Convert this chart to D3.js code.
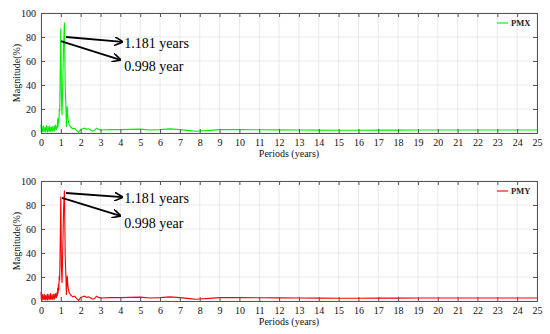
<!DOCTYPE html>
<html>
<head>
<meta charset="utf-8">
<script src="https://cdn.jsdelivr.net/npm/d3@7"></script>
<style>
	body { margin: 0; background: #fff; }
	svg { display: block; font-family: 'Liberation Serif', 'Times New Roman', serif; }
</style>
</head>
<body>
<svg></svg>
<script>
// periods (years) and magnitudes (%)
const periods = [
	0.00, 0.02, 0.04, 0.06, 0.08, 0.10, 0.12, 0.14, 0.16, 0.18, 0.20, 0.22, 0.24, 0.26, 0.28, 0.30,
	0.32, 0.34, 0.36, 0.38, 0.40, 0.42, 0.44, 0.46, 0.48, 0.50, 0.52, 0.54, 0.56, 0.58, 0.60, 0.62,
	0.64, 0.66, 0.68, 0.70, 0.72, 0.74, 0.76, 0.78, 0.80, 0.82, 0.84, 0.86, 0.88, 0.90, 0.92, 0.94,
	0.96, 0.998, 1.03, 1.06, 1.10, 1.14, 1.181, 1.22, 1.26, 1.28, 1.32, 1.36, 1.40, 1.45, 1.50,
	1.60, 1.70, 1.80, 1.90, 2.00, 2.10, 2.20, 2.30, 2.40, 2.50, 2.60, 2.70, 2.80, 2.90, 3.00,
	3.50, 4.00, 4.50, 5.00, 5.50, 6.00, 6.50, 7.00, 7.50, 7.80, 8.50, 9.00, 10.0, 11.0, 12.0,
	13.0, 14.0, 15.0, 16.0, 17.0, 18.0, 19.0, 20.0, 21.0, 22.0, 23.0, 24.0, 25.0
];

const pmx = [
	7.0, 1.0, 5.5, 0.5, 4.0, 2.0, 6.0, 0.8, 3.5, 1.5, 5.0, 0.6, 4.5, 2.5, 6.5, 1.0,
	3.0, 0.5, 5.5, 2.0, 4.0, 1.0, 6.0, 1.5, 3.5, 0.8, 5.0, 2.0, 4.5, 1.2, 6.0, 2.5,
	3.5, 1.0, 5.5, 2.0, 7.0, 3.0, 5.0, 2.5, 6.5, 4.0, 12.0, 5.0, 13.0, 8.0, 20.0, 18.0,
	40.0, 87.0, 30.0, 15.0, 45.0, 75.0, 92.0, 40.0, 20.0, 5.0, 22.0, 12.0, 8.0, 6.0, 5.0,
	3.5, 4.0, 2.0, 0.5, 3.0, 3.5, 4.0, 3.0, 3.5, 2.5, 1.5, 2.0, 4.0, 3.0, 2.5,
	2.8, 2.8, 3.0, 3.2, 2.5, 2.8, 3.4, 2.8, 2.0, 1.5, 2.2, 2.8, 2.8, 2.7, 2.6,
	2.5, 2.4, 2.3, 2.3, 2.4, 2.4, 2.5, 2.5, 2.5, 2.5, 2.5, 2.5, 2.5
];

const pmy = [
	7.5, 1.5, 4.5, 0.5, 5.5, 2.0, 3.5, 0.8, 6.0, 1.5, 4.0, 0.6, 5.0, 2.5, 3.0, 1.0,
	6.0, 0.5, 4.0, 2.0, 5.5, 1.0, 3.5, 1.5, 6.5, 0.8, 4.0, 2.0, 5.5, 1.2, 3.5, 2.5,
	6.0, 1.0, 4.5, 2.0, 6.5, 3.0, 5.5, 2.5, 7.0, 4.0, 11.0, 6.0, 14.0, 9.0, 21.0, 17.0,
	38.0, 87.0, 28.0, 15.0, 45.0, 78.0, 92.0, 38.0, 18.0, 5.0, 21.0, 12.0, 8.0, 6.0, 5.0,
	3.5, 4.0, 2.0, 0.5, 3.0, 3.5, 4.0, 3.0, 3.5, 2.5, 1.5, 2.0, 4.0, 3.0, 2.5,
	2.8, 2.8, 3.0, 3.2, 2.5, 2.8, 3.4, 2.8, 2.0, 1.5, 2.2, 2.8, 2.8, 2.7, 2.6,
	2.5, 2.4, 2.3, 2.3, 2.4, 2.4, 2.5, 2.5, 2.5, 2.5, 2.5, 2.5, 2.5
];

const xTicks = d3.range(0, 26, 1);
const yTicks = [0, 20, 40, 60, 80, 100];
const peakLabels = ['1.181 years', '0.998 year'];

// annotation arrows [x1, y1, x2, y2] in data units, and label anchors [x, y]
const arrowsX = [[1.26, 80, 4.1, 76], [1.0, 76.5, 4.0, 61]];
const labelsX = [[4.2, 71], [4.2, 52]];
const arrowsY = [[1.26, 90, 4.1, 86.5], [1.06, 86, 4.0, 71]];
const labelsY = [[4.2, 82], [4.2, 61]];

const serif = "'Liberation Serif', 'Times New Roman', serif";

const svg = d3.select('svg')
	.attr('width', 550)
	.attr('height', 334);

svg.append('defs').append('marker')
	.attr('id', 'head')
	.attr('viewBox', '0 0 10 10')
	.attr('refX', 9)
	.attr('refY', 5)
	.attr('markerWidth', 9)
	.attr('markerHeight', 9)
	.attr('markerUnits', 'userSpaceOnUse')
	.attr('orient', 'auto')
	.append('path')
		.attr('d', 'M0,0 L10,5 L0,10')
		.attr('fill', 'none')
		.attr('stroke', 'black')
		.attr('stroke-width', 1.8);

const render = (top, values, color, name, arrows, labels) => {
	const margin = { left: 41, right: 13 },
		innerWidth = 550 - margin.left - margin.right,
		innerHeight = 120;

	const xScale = d3.scaleLinear()
		.domain([0, 25])
		.range([0, innerWidth]);

	const yScale = d3.scaleLinear()
		.domain([0, 100])
		.range([innerHeight, 0]);

	const g = svg.append('g')
		.attr('transform', `translate(${margin.left}, ${top})`);

	// grid
	g.append('g').selectAll('line.gx')
		.data(xTicks)
		.enter().append('line')
			.attr('x1', d => xScale(d)).attr('x2', d => xScale(d))
			.attr('y1', 0).attr('y2', innerHeight)
			.attr('stroke', '#e3e3e3')
			.attr('stroke-width', 0.8);

	g.append('g').selectAll('line.gy')
		.data(yTicks)
		.enter().append('line')
			.attr('y1', d => yScale(d)).attr('y2', d => yScale(d))
			.attr('x1', 0).attr('x2', innerWidth)
			.attr('stroke', '#e3e3e3')
			.attr('stroke-width', 0.8);

	const line = d3.line()
		.x((d, i) => xScale(periods[i]))
		.y(d => yScale(d));

	g.append('path')
		.datum(values)
		.attr('d', line)
		.attr('fill', 'none')
		.attr('stroke', color)
		.attr('stroke-width', 1.1);

	// axes, MATLAB-like box with inward ticks
	const xAxis = d3.axisBottom(xScale).tickValues(xTicks).tickSize(-4).tickPadding(6);
	const xAxisG = g.append('g').call(xAxis)
		.attr('transform', `translate(0, ${innerHeight})`);

	const xTop = d3.axisTop(xScale).tickValues(xTicks).tickSize(-4).tickFormat('');
	const xTopG = g.append('g').call(xTop);

	const yAxis = d3.axisLeft(yScale).tickValues(yTicks).tickSize(-4).tickPadding(5);
	const yAxisG = g.append('g').call(yAxis);

	const yRight = d3.axisRight(yScale).tickValues(yTicks).tickSize(-4).tickFormat('');
	const yRightG = g.append('g').call(yRight)
		.attr('transform', `translate(${innerWidth}, 0)`);

	[xAxisG, xTopG, yAxisG, yRightG].forEach(a => {
		a.attr('font-family', serif).attr('font-size', 10);
		a.selectAll('path, line').attr('stroke', '#555');
		a.selectAll('text').attr('fill', '#111');
	});

	xAxisG.append('text')
		.attr('fill', '#111')
		.attr('x', innerWidth / 2)
		.attr('y', 24)
		.attr('text-anchor', 'middle')
		.text('Periods (years)');

	yAxisG.append('text')
		.attr('fill', '#111')
		.attr('x', -innerHeight / 2)
		.attr('y', -21)
		.attr('transform', 'rotate(-90)')
		.attr('text-anchor', 'middle')
		.text('Magnitude(%)');

	// legend
	g.append('line')
		.attr('x1', innerWidth - 40).attr('x2', innerWidth - 29)
		.attr('y1', 10).attr('y2', 10)
		.attr('stroke', color)
		.attr('stroke-width', 1.1);

	g.append('text')
		.attr('x', innerWidth - 26)
		.attr('y', 13)
		.style('font-size', '8.5px')
		.style('font-weight', 'bold')
		.attr('fill', '#222')
		.text(name);

	// annotation arrows
	g.selectAll('line.arrow')
		.data(arrows)
		.enter().append('line')
			.attr('x1', d => xScale(d[0])).attr('y1', d => yScale(d[1]))
			.attr('x2', d => xScale(d[2])).attr('y2', d => yScale(d[3]))
			.attr('stroke', 'black')
			.attr('stroke-width', 1.8)
			.attr('marker-end', 'url(#head)');

	g.selectAll('text.peak')
		.data(labels)
		.enter().append('text')
			.attr('x', d => xScale(d[0]))
			.attr('y', d => yScale(d[1]))
			.style('font-size', '14px')
			.attr('fill', 'black')
			.text((d, i) => peakLabels[i]);
};

render(13, pmx, '#00f000', 'PMX', arrowsX, labelsX);
render(181, pmy, '#ff0000', 'PMY', arrowsY, labelsY);
</script>
</body>
</html>
